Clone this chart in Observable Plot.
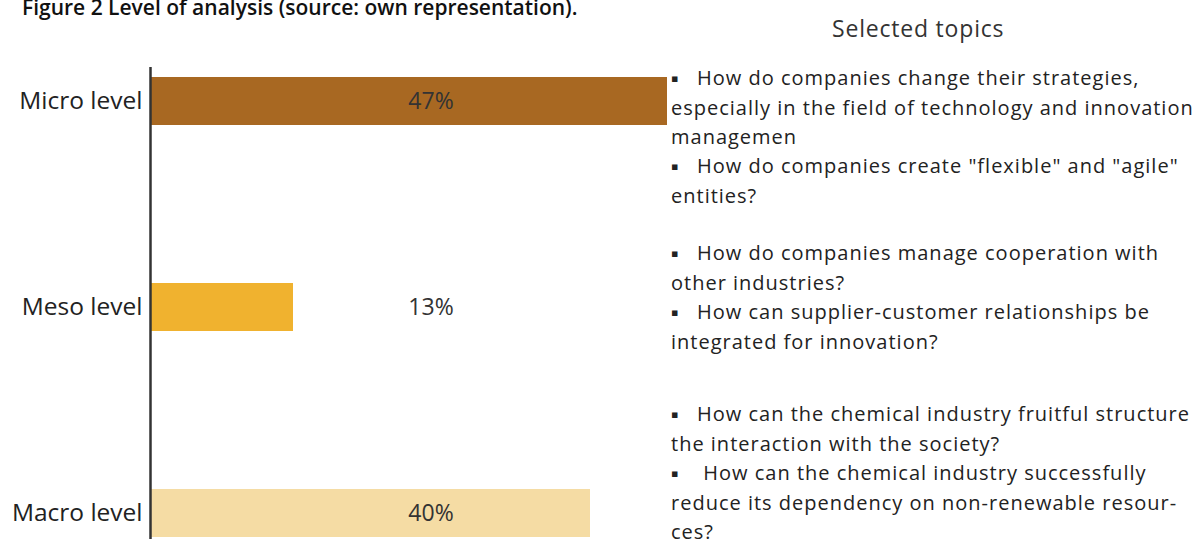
<!DOCTYPE html>
<html>
<head>
<meta charset="utf-8">
<script src="https://cdn.jsdelivr.net/npm/d3@7"></script>
<script src="https://cdn.jsdelivr.net/npm/@observablehq/plot@0.6"></script>
<style>
  html, body { margin: 0; padding: 0; background: #fff; }
  #wrap { position: relative; width: 1201px; height: 539px; overflow: hidden; }
  #title { position: absolute; left: 22px; top: -3px; line-height: 20px; font-family: "Open Sans", sans-serif; font-weight: 600; font-size: 21px; color: #111; white-space: nowrap; }
  #header { position: absolute; left: 832px; top: 12px; font-family: "Open Sans", sans-serif; font-size: 23px; letter-spacing: 0.8px; color: #333; white-space: nowrap; }
  .topics { position: absolute; left: 671px; font-family: "Open Sans", sans-serif; font-size: 20px; letter-spacing: 1px; line-height: 29px; color: #222; white-space: pre; }
  .b { font-family: "DejaVu Sans", sans-serif; font-size: 11px; vertical-align: 3px; letter-spacing: 0; }
  #chart { position: absolute; left: 0; top: 0; }
</style>
</head>
<body>
<div id="wrap">
  <div id="chart"></div>
  <div id="title"></div>
  <div id="header"></div>
  <div class="topics" id="t0" style="top:63px"></div>
  <div class="topics" id="t1" style="top:238px"></div>
  <div class="topics" id="t2" style="top:399px"></div>
</div>
<script>
const levels = ["Micro level", "Meso level", "Macro level"];
const shares = [47, 13, 40];
const colors = ["#A86822", "#F0B22F", "#F5DCA4"];
const titleText = "Figure 2 Level of analysis (source: own representation).";
const headerText = "Selected topics";
const topics = [
  [["How do companies change their strategies,", "especially in the field of technology and innovation", "managemen"],
   ["How do companies create \"flexible\" and \"agile\"", "entities?"]],
  [["How do companies manage cooperation with", "other industries?"],
   ["How can supplier-customer relationships be", "integrated for innovation?"]],
  [["How can the chemical industry fruitful structure", "the interaction with the society?"],
   [" How can the chemical industry successfully", "reduce its dependency on non-renewable resour-", "ces?"]]
];

const data = levels.map((l, i) => ({level: l, share: shares[i], color: colors[i]}));

const chart = Plot.plot({
  width: 1201,
  height: 539,
  marginLeft: 150,
  marginRight: 490,
  marginTop: 76,
  marginBottom: 2,
  style: {fontFamily: "'Liberation Sans Narrow', 'Open Sans', sans-serif", background: "transparent"},
  x: {domain: [0, 51], axis: null},
  y: {domain: levels, paddingInner: 0.7676, paddingOuter: 0, label: null},
  marks: [
    Plot.barX(data, {y: "level", x: "share", fill: "color"}),
    Plot.text(data, {y: "level", text: d => d.share + "%", frameAnchor: "middle", fontSize: 23, fill: "#333", fontFamily: "'Open Sans', sans-serif"}),
    Plot.axisY({tickSize: 0, tickPadding: 8, fontSize: 24.5, color: "#222", fill: "#222"}),
    Plot.ruleX([0], {stroke: "#333", strokeWidth: 2.5, insetTop: -9, insetBottom: -2})
  ]
});
document.getElementById("chart").appendChild(chart);
document.getElementById("title").textContent = titleText;
document.getElementById("header").textContent = headerText;

topics.forEach((group, gi) => {
  const el = document.getElementById("t" + gi);
  group.forEach(item => {
    item.forEach((line, li) => {
      const div = document.createElement("div");
      if (li === 0) {
        const b = document.createElement("span");
        b.className = "b";
        b.textContent = "\u25AA";
        div.appendChild(b);
        div.appendChild(document.createTextNode("   " + line));
      } else {
        div.textContent = line;
      }
      el.appendChild(div);
    });
  });
});
</script>
</body>
</html>
